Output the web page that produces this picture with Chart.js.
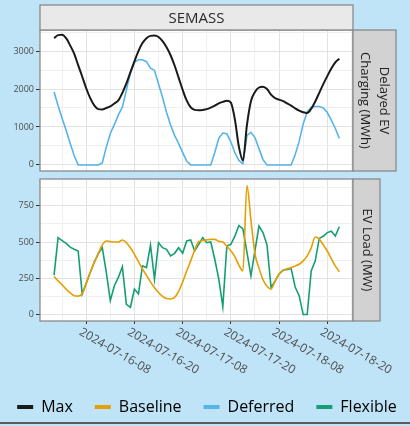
<!DOCTYPE html>
<html>
<head>
<meta charset="utf-8">
<script src="https://cdn.jsdelivr.net/npm/chart.js@4"></script>
<style>
  html, body { margin: 0; padding: 0; }
  body { width: 410px; height: 426px; background: #bfe3f7; position: relative; overflow: hidden; }
  #chargeChart { position: absolute; left: 0; top: 0; }
  #loadChart { position: absolute; left: 0; top: 175px; }
  .edge { position: absolute; left: 0; top: 422px; width: 410px; height: 2px; background: #5c5c5c; }
</style>
</head>
<body>
<canvas id="chargeChart" width="410" height="175"></canvas>
<canvas id="loadChart" width="410" height="251"></canvas>
<div class="edge"></div>
<script>
// hours since 2024-07-16 00:00
const hours = [0, 1, 2, 3, 4, 5, 6, 7, 8, 9, 10, 11, 12, 13, 14, 15, 16, 17, 18, 19, 20, 21, 22, 23,
  24, 25, 26, 27, 28, 29, 30, 31, 32, 33, 34, 35, 36, 37, 38, 39, 40, 41, 42, 43, 44, 45, 46, 47,
  48, 49, 50, 51, 52, 53, 54, 55, 56, 57, 58, 59, 60, 61, 62, 63, 64, 65, 66, 67, 68, 69, 70, 71];

const tickHours = [8, 20, 32, 44, 56, 68];
const tickLabels = ['2024-07-16-08', '2024-07-16-20', '2024-07-17-08', '2024-07-17-20', '2024-07-18-08', '2024-07-18-20'];
const chargingTicks = [0, 1000, 2000, 3000];
const loadTicks = [0, 250, 500, 750];

// Delayed EV Charging (MWh)
const maxCharging = [3340, 3420, 3430, 3340, 3150, 2930, 2630, 2330, 2020, 1760,
  1570, 1470, 1460, 1500, 1540, 1620, 1700, 1900, 2150, 2440,
  2730, 3000, 3210, 3340, 3400, 3410, 3370, 3260, 3100, 2890,
  2620, 2300, 1980, 1700, 1520, 1450, 1440, 1450, 1470, 1510,
  1560, 1620, 1660, 1690, 1640, 1200, 480, 120, 1050, 1680,
  1920, 2040, 2060, 2000, 1850, 1760, 1720, 1680, 1620, 1560,
  1490, 1430, 1390, 1370, 1480, 1670, 1900, 2130, 2340, 2540,
  2700, 2800];
const deferredCharging = [1920, 1560, 1230, 915, 570, 250, 0, 0, 0, 0,
  0, 0, 50, 470, 830, 1060, 1320, 1520, 1970, 2430,
  2700, 2770, 2770, 2720, 2550, 2490, 2130, 1780, 1380, 1050,
  780, 560, 330, 100, 0, 0, 0, 0, 0, 0,
  330, 700, 840, 820, 610, 320, 120, 30, 780, 860,
  720, 430, 140, 0, 0, 0, 0, 0, 0, 0,
  270, 620, 1080, 1400, 1520, 1540, 1540, 1500, 1380, 1180,
  960, 700];

// EV Load (MW)
const baselineLoad = [262, 232, 205, 175, 150, 130, 127, 145, 215, 290,
  360, 420, 480, 507, 503, 500, 500, 514, 495, 460,
  415, 365, 315, 270, 225, 185, 152, 125, 110, 107,
  118, 160, 225, 300, 370, 445, 502, 510, 515, 518,
  518, 505, 500, 470, 440, 400, 340, 300, 890, 650,
  420, 320, 240, 195, 175, 230, 280, 305, 315, 325,
  335, 347, 370, 405, 460, 535, 520, 480, 438, 385,
  335, 295];
const flexibleLoad = [272, 530, 510, 490, 465, 450, 438, 142, 215, 290,
  360, 420, 461, 290, 96, 199, 256, 330, 70, 50,
  176, 142, 336, 324, 478, 244, 495, 461, 450, 404,
  422, 461, 422, 507, 514, 438, 484, 530, 495, 500,
  381, 244, 55, 473, 484, 541, 614, 590, 430, 267,
  440, 610, 565, 480, 187, 230, 280, 305, 310, 318,
  190, 130, 0, 0, 300, 370, 525, 540, 565, 575,
  541, 605];

const legendNames = ['Max', 'Baseline', 'Deferred', 'Flexible'];
const legendColors = ['#1a1a1a', '#E69F00', '#56B4E9', '#159E74'];

const FONT = '"Open Sans", "Noto Sans", sans-serif';

// major ticks plus the minor lines half way between them (and one step past the last)
const withMinor = (majors) => {
  const step = majors[1] - majors[0];
  const out = [];
  majors.forEach(v => { out.push(v, v + step / 2); });
  return out;
};
const gridHours = [tickHours[0] - 6].concat(withMinor(tickHours));

const makeFacet = (cfg) => ({
  id: 'facet',
  beforeDraw(chart) {
    const a = chart.chartArea, ctx = chart.ctx;
    ctx.save();
    ctx.fillStyle = '#ffffff';
    ctx.fillRect(a.left, a.top, a.right - a.left, a.bottom - a.top);
    ctx.restore();
  },
  afterDraw(chart) {
    const a = chart.chartArea, ctx = chart.ctx;
    ctx.save();
    ctx.lineWidth = 1.3;
    ctx.strokeStyle = '#8a8a8a';
    ctx.strokeRect(a.left, a.top, a.right - a.left, a.bottom - a.top);

    if (cfg.title) {
      ctx.fillStyle = '#e9e9e9';
      ctx.fillRect(a.left, 5, a.right - a.left, a.top - 5);
      ctx.strokeRect(a.left, 5, a.right - a.left, a.top - 5);
      ctx.fillStyle = '#2b2b2b';
      ctx.font = '15px ' + FONT;
      ctx.textAlign = 'center';
      ctx.textBaseline = 'middle';
      ctx.fillText(cfg.title, (a.left + a.right) / 2, (5 + a.top) / 2 + 1);
    }

    // right strip
    ctx.fillStyle = '#d2d2d2';
    ctx.fillRect(a.right, a.top, cfg.stripWidth, a.bottom - a.top);
    ctx.strokeRect(a.right, a.top, cfg.stripWidth, a.bottom - a.top);
    ctx.fillStyle = '#1f1f1f';
    ctx.font = '13px ' + FONT;
    ctx.textAlign = 'center';
    ctx.textBaseline = 'middle';
    const cx = a.right + cfg.stripWidth / 2, cy = (a.top + a.bottom) / 2;
    ctx.translate(cx, cy);
    ctx.rotate(Math.PI / 2);
    const n = cfg.stripLines.length;
    cfg.stripLines.forEach((line, i) => {
      ctx.fillText(line, 0, (i - (n - 1) / 2) * 19);
    });
    ctx.setTransform(1, 0, 0, 1, 0, 0);

    if (cfg.xLabels) {
      const xs = chart.scales.x;
      ctx.fillStyle = '#4d4d4d';
      ctx.font = '12px ' + FONT;
      ctx.textAlign = 'left';
      ctx.textBaseline = 'top';
      tickHours.forEach((h, i) => {
        const px = xs.getPixelForValue(h);
        ctx.save();
        ctx.translate(px - 3, a.bottom + 5);
        ctx.rotate(30 * Math.PI / 180);
        ctx.fillText(tickLabels[i], 0, 0);
        ctx.restore();
      });
    }
    ctx.restore();
  }
});

const xScale = (height, ticksOn) => ({
  type: 'linear',
  min: -3.5,
  max: 74.4,
  afterBuildTicks: s => { s.ticks = gridHours.map(v => ({value: v})); },
  afterFit: s => { s.height = height; },
  ticks: {display: false},
  grid: {
    color: c => tickHours.includes(c.tick.value) ? '#e2e2e2' : '#efefef',
    lineWidth: 1,
    drawTicks: ticksOn,
    tickLength: 3,
    tickColor: c => tickHours.includes(c.tick.value) ? '#333333' : 'rgba(0,0,0,0)'
  },
  border: {display: false}
});

const yScale = (min, max, majors, width) => ({
  min: min,
  max: max,
  afterBuildTicks: s => { s.ticks = withMinor(majors).map(v => ({value: v})); },
  afterFit: s => {
    s.width = width;
    s.paddingTop = 0;
    s.paddingBottom = 0;
  },
  ticks: {
    autoSkip: false,
    padding: 2,
    color: '#4d4d4d',
    font: {family: FONT, size: 9},
    callback: v => majors.includes(v) ? String(v) : ''
  },
  grid: {
    color: c => majors.includes(c.tick.value) ? '#e2e2e2' : '#efefef',
    lineWidth: 1,
    tickLength: 4,
    tickColor: c => majors.includes(c.tick.value) ? '#333333' : 'rgba(0,0,0,0)'
  },
  border: {display: false}
});

const sideScale = (w) => ({
  position: 'right',
  afterFit: s => {
    s.width = w;
    s.paddingTop = 0;
    s.paddingBottom = 0;
  },
  ticks: {display: false},
  grid: {display: false},
  border: {display: false}
});

new Chart(document.getElementById('chargeChart'), {
  type: 'line',
  data: {
    labels: hours,
    datasets: [
      {label: 'Max', data: maxCharging, borderColor: legendColors[0], borderWidth: 2,
        cubicInterpolationMode: 'monotone', pointRadius: 0, yAxisID: 'y'},
      {label: 'Deferred', data: deferredCharging, borderColor: legendColors[2], borderWidth: 1.6,
        tension: 0, pointRadius: 0, yAxisID: 'y'}
    ]
  },
  options: {
    responsive: false,
    animation: false,
    events: [],
    layout: {padding: {top: 30, bottom: 4, left: 0, right: 0}},
    plugins: {legend: {display: false}, tooltip: {enabled: false}},
    scales: {
      x: xScale(0, false),
      y: yScale(-160, 3555, chargingTicks, 40),
      side: sideScale(57)
    }
  },
  plugins: [makeFacet({title: 'SEMASS', stripWidth: 43, stripLines: ['Delayed EV', 'Charging (MWh)']})]
});

new Chart(document.getElementById('loadChart'), {
  type: 'line',
  data: {
    labels: hours,
    datasets: [
      {label: 'Baseline', data: baselineLoad, borderColor: legendColors[1], borderWidth: 1.6,
        cubicInterpolationMode: 'monotone', pointRadius: 0, yAxisID: 'y'},
      {label: 'Flexible', data: flexibleLoad, borderColor: legendColors[3], borderWidth: 1.6,
        tension: 0, pointRadius: 0, yAxisID: 'y'}
    ]
  },
  options: {
    responsive: false,
    animation: false,
    events: [],
    // negative side padding gives the legend row more room than the plot
    layout: {padding: {top: 4, bottom: 1, left: -8, right: -12}},
    plugins: {
      tooltip: {enabled: false},
      legend: {
        position: 'bottom',
        labels: {
          font: {family: FONT, size: 16},
          color: '#1a1a1a',
          boxWidth: 16,
          boxHeight: 4,
          padding: 22,
          generateLabels: () => legendNames.map((name, i) => ({
            text: name, fillStyle: legendColors[i], strokeStyle: legendColors[i],
            lineWidth: 0, hidden: false, datasetIndex: i
          }))
        }
      }
    },
    scales: {
      x: xScale(56, true),
      y: yScale(-44.5, 934.5, loadTicks, 48),
      side: sideScale(69)
    }
  },
  plugins: [makeFacet({stripWidth: 27, stripLines: ['EV Load (MW)'], xLabels: true})]
});
</script>
</body>
</html>
